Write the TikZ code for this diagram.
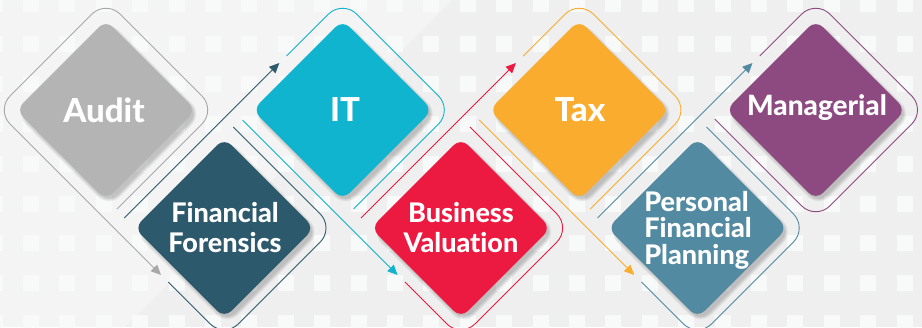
\documentclass[tikz,border=0pt]{standalone}
\usepackage{fontspec}
\setmainfont{Lato}
\newfontfamily\heavyfont{Lato-Heavy}[Extension=.ttf,Ligatures={NoCommon}]
\usetikzlibrary{arrows.meta}
\definecolor{bgc}{HTML}{EFEFEF}
\definecolor{bglight}{HTML}{F4F4F4}
\definecolor{sqc}{HTML}{F8F9F9}
\definecolor{cAudit}{HTML}{B3B4B3}
\definecolor{cAuditLine}{HTML}{A8A8A8}
\definecolor{cFF}{HTML}{2C596B}
\definecolor{cIT}{HTML}{10B4CF}
\definecolor{cBV}{HTML}{EC1A41}
\definecolor{cTax}{HTML}{F9AC2D}
\definecolor{cPFP}{HTML}{528AA2}
\definecolor{cMan}{HTML}{8C4A80}
\tikzset{
  ol/.style={line width=0.9pt, rounded corners=20pt},
  arr/.style={ol, -{Triangle[length=10pt,width=9pt]}},
  lbl/.style={text=white, align=center, inner sep=0pt},
  big/.style={lbl, font=\heavyfont\fontsize{33}{33}\selectfont},
  two/.style={lbl, font=\heavyfont\fontsize{27}{30}\selectfont},
  three/.style={lbl, align=left, font=\heavyfont\fontsize{27}{26.5}\selectfont},
}
\newcommand{\diamondbox}[1]{%
  \begin{scope}[shift={(3,4)}]
    \foreach \i in {1,...,6}{%
      \pgfmathsetmacro\hh{88+\i}%
      \pgfmathsetmacro\rr{10+\i}%
      \fill[black,opacity=0.035,rounded corners=\rr pt] (-\hh,0) -- (0,-\hh) -- (\hh,0) -- (0,\hh) -- cycle;
    }
  \end{scope}
  \fill[#1,rounded corners=10pt] (-90,0) -- (0,-90) -- (90,0) -- (0,90) -- cycle;
}
\begin{document}
\begin{tikzpicture}[x=1pt,y=-1pt]
\useasboundingbox (0,0) rectangle (922,327);
\clip (0,0) rectangle (922,327);
% background
\fill[bgc] (0,0) rectangle (922,327);
\fill[bglight] (0,0) -- (452,0) -- (125,327) -- (0,327) -- cycle;
\foreach \i in {0,...,26}{%
  \foreach \j in {0,...,8}{%
    \fill[sqc] ({-13.4+36.4*\i},{-4+39.9*\j}) rectangle +(16,16);
  }
}
% centres
\coordinate (cA) at (106,110);
\coordinate (cF) at (224.3,228);
\coordinate (cI) at (342.6,110);
\coordinate (cB) at (460.9,228);
\coordinate (cT) at (579.2,110);
\coordinate (cP) at (697.5,228);
\coordinate (cM) at (815.8,110);

% Audit
\begin{scope}[shift={(cA)}]
  \draw[arr,cAuditLine] (11,99) -- (110,0) -- (0,-110) -- (-110,0) -- (55,165);
  \diamondbox{cAudit}
\end{scope}
% Financial Forensics
\begin{scope}[shift={(cF)}]
  \draw[ol,cFF] (-56,54) -- (0,110) -- (110,0) -- (9,-101);
  \draw[arr,cFF] (-100,-10) -- (55,-165);
  \diamondbox{cFF}
\end{scope}
% IT
\begin{scope}[shift={(cI)}]
  \draw[ol,cIT] (-56,-54) -- (0,-110) -- (110,0) -- (11,99);
  \draw[arr,cIT] (-100,10) -- (55,165);
  \diamondbox{cIT}
\end{scope}
% Business Valuation
\begin{scope}[shift={(cB)}]
  \draw[ol,cBV] (-56,54) -- (0,110) -- (110,0) -- (9,-101);
  \draw[arr,cBV] (-100,-10) -- (55,-165);
  \diamondbox{cBV}
\end{scope}
% Tax
\begin{scope}[shift={(cT)}]
  \draw[ol,cTax] (-56,-54) -- (0,-110) -- (110,0) -- (11,99);
  \draw[arr,cTax] (-100,10) -- (55,165);
  \diamondbox{cTax}
\end{scope}
% Personal Financial Planning
\begin{scope}[shift={(cP)}]
  \draw[ol,cPFP] (-56,54) -- (0,110) -- (110,0) -- (9,-101);
  \draw[arr,cPFP] (-100,-10) -- (55,-165);
  \diamondbox{cPFP}
\end{scope}
% Managerial
\begin{scope}[shift={(cM)}]
  \draw[ol,cMan] (-56,-54) -- (0,-110) -- (110,0) -- (0,110) -- (-101,9);
  \diamondbox{cMan}
\end{scope}

% labels
\node[big] (tA) at (104,110) {Audit};
\node[big] (tI) at (345,110) {IT};
\node[big] (tT) at (580,110) {Tax};
\node[big, font=\heavyfont\fontsize{28}{28}\selectfont] (tM) at (817,108) {Managerial};
\node[two] (tF) at (225,228) {Financial\\Forensics};
\node[two] (tB) at (461,228) {Business\\Valuation};
\node[three] (tP) at (698,230) {Personal\\Financial\\Planning};
\end{tikzpicture}
\end{document}
